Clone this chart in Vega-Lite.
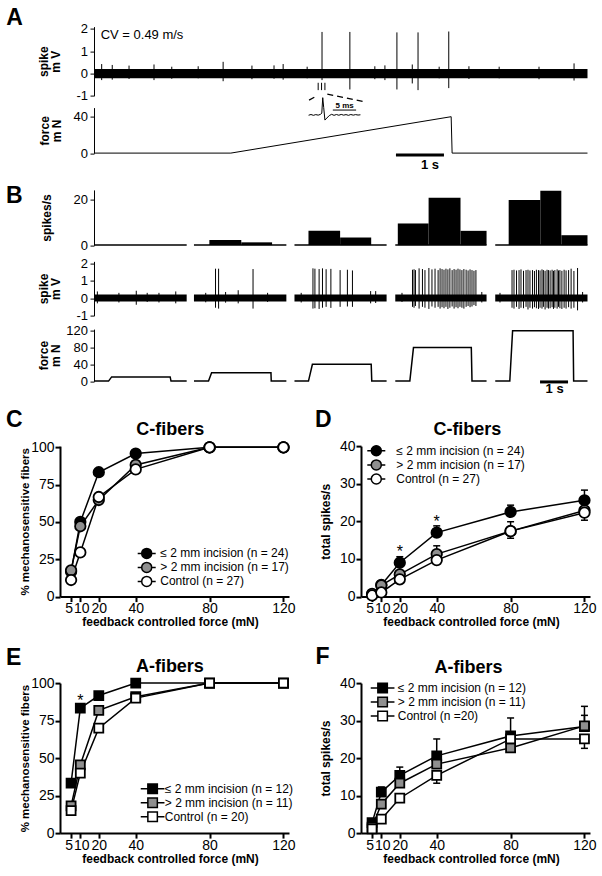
{
"$schema": "https://vega.github.io/schema/vega-lite/v6.json",
"padding": {"left": 6, "top": 6.6, "right": 4, "bottom": 4},
"config": {
  "font": "Liberation Sans",
  "view": {"stroke": null},
  "axis": {"grid": false, "domainColor": "black", "tickColor": "black", "labelColor": "black", "titleColor": "black", "labelFlush": false},
  "legend": {"labelColor": "black"}
},
"datasets": {
  "aSpikes": [
    {"t":0.16,"top":0.42,"bottom":-0.3},{"t":0.38,"top":0.38,"bottom":-0.28},{"t":0.73,"top":0.35,"bottom":-0.25},{"t":1.25,"top":0.4,"bottom":-0.3},{"t":1.62,"top":0.3,"bottom":-0.24},{"t":2.17,"top":0.32,"bottom":-0.22},{"t":2.69,"top":0.52,"bottom":-0.35},{"t":3.29,"top":0.35,"bottom":-0.26},{"t":3.75,"top":0.36,"bottom":-0.24},{"t":3.94,"top":0.42,"bottom":-0.28},{"t":4.44,"top":0.3,"bottom":-0.22},{"t":5.85,"top":0.32,"bottom":-0.26},{"t":6.06,"top":0.36,"bottom":-0.3},{"t":6.63,"top":0.4,"bottom":-0.45},{"t":7.19,"top":0.3,"bottom":-0.22},{"t":7.81,"top":0.32,"bottom":-0.25},{"t":8.44,"top":0.3,"bottom":-0.22},{"t":9.27,"top":0.3,"bottom":-0.26},{"t":10.0,"top":0.45,"bottom":-0.32},
    {"t":4.75,"top":1.86,"bottom":-0.3},{"t":5.33,"top":1.86,"bottom":-0.72},{"t":6.31,"top":1.84,"bottom":-0.72},{"t":6.75,"top":1.84,"bottom":-0.75},{"t":7.39,"top":1.88,"bottom":-0.66}
  ],
  "aMarks": [{"t":4.67,"top":-0.42,"bottom":-0.75},{"t":4.74,"top":-0.42,"bottom":-0.75},{"t":4.81,"top":-0.42,"bottom":-0.75}],
  "aDash": [{"t0":4.48,"y0":-1.2,"t1":4.63,"y1":-1.02},{"t0":4.86,"y0":-0.93,"t1":5.625,"y1":-1.27}],
  "aForce": [{"t":0,"f":0},{"t":2.85,"f":0},{"t":7.44,"f":40},{"t":7.46,"f":0},{"t":10.28,"f":0}],
  "inset": [
    {"t":4.47,"f":41.6},{"t":4.52,"f":42.4},{"t":4.57,"f":41.5},{"t":4.62,"f":42.3},{"t":4.67,"f":41.7},{"t":4.72,"f":42.6},{"t":4.745,"f":44},{"t":4.765,"f":60.9},{"t":4.785,"f":50},{"t":4.81,"f":36.3},{"t":4.85,"f":38.5},{"t":4.9,"f":41.2},{"t":4.95,"f":42.6},{"t":5.0,"f":41.5},{"t":5.05,"f":42.4},{"t":5.1,"f":41.6},{"t":5.15,"f":42.5},{"t":5.2,"f":41.7},{"t":5.25,"f":42.3},{"t":5.3,"f":41.5},{"t":5.35,"f":42.4},{"t":5.4,"f":41.7},{"t":5.45,"f":42.3},{"t":5.5,"f":41.8},{"t":5.55,"f":42.1}
  ],
  "segs": [{"s0":0,"s1":3.31},{"s0":3.57,"s1":6.87},{"s0":7.16,"s1":10.45},{"s0":10.76,"s1":14.02},{"s0":14.33,"s1":17.625}],
  "bHist": [
    {"b0":4.12,"b1":5.26,"h":2.2},{"b0":5.26,"b1":6.36,"h":1.2},
    {"b0":7.66,"b1":8.79,"h":6.2},{"b0":8.79,"b1":9.9,"h":3.3},
    {"b0":10.85,"b1":11.95,"h":9.4},{"b0":11.95,"b1":13.09,"h":20.6},{"b0":13.09,"b1":14.02,"h":6.2},
    {"b0":14.81,"b1":15.94,"h":19.6},{"b0":15.94,"b1":16.69,"h":23.6},{"b0":16.69,"b1":17.625,"h":4.3}
  ],
  "bSpikes": [
    {"t":0.12,"top":0.38,"bottom":-0.3},{"t":0.89,"top":0.3,"bottom":-0.25},{"t":1.51,"top":0.42,"bottom":-0.38},{"t":1.9,"top":0.3,"bottom":-0.22},{"t":2.32,"top":0.3,"bottom":-0.25},{"t":2.92,"top":0.38,"bottom":-0.3},
    {"t":3.99,"top":0.3,"bottom":-0.24},{"t":4.34,"top":1.68,"bottom":-0.55},{"t":4.45,"top":1.68,"bottom":-0.6},{"t":4.7,"top":0.35,"bottom":-0.26},{"t":5.15,"top":0.45,"bottom":-0.3},{"t":5.68,"top":1.66,"bottom":-0.6},{"t":6.2,"top":0.3,"bottom":-0.22},
    {"t":7.4,"top":0.3,"bottom":-0.25},{"t":7.82,"top":1.7,"bottom":-0.6},{"t":7.89,"top":1.68,"bottom":-0.58},{"t":8.04,"top":1.66,"bottom":-0.62},{"t":8.16,"top":1.7,"bottom":-0.55},{"t":8.29,"top":1.65,"bottom":-0.5},{"t":8.46,"top":1.67,"bottom":-0.56},{"t":8.79,"top":1.6,"bottom":-0.5},{"t":9.05,"top":1.62,"bottom":-0.48},{"t":9.23,"top":1.58,"bottom":-0.5},{"t":9.88,"top":0.4,"bottom":-0.3},{"t":10.06,"top":0.4,"bottom":-0.28},
    {"t":11.0,"top":0.3,"bottom":-0.22},
    {"t":11.375,"top":1.62,"bottom":-0.5},{"t":11.43,"top":1.65,"bottom":-0.55},{"t":11.48,"top":1.6,"bottom":-0.45},{"t":11.61,"top":1.7,"bottom":-0.6},{"t":11.73,"top":1.66,"bottom":-0.5},{"t":11.82,"top":1.6,"bottom":-0.55},{"t":11.96,"top":1.72,"bottom":-0.62},{"t":12.07,"top":1.64,"bottom":-0.48},{"t":12.18,"top":1.68,"bottom":-0.55},{"t":12.29,"top":1.6,"bottom":-0.5},{"t":12.36,"top":1.7,"bottom":-0.6},{"t":12.43,"top":1.66,"bottom":-0.52},{"t":12.5,"top":1.62,"bottom":-0.58},{"t":12.57,"top":1.68,"bottom":-0.5},{"t":12.64,"top":1.64,"bottom":-0.62},{"t":12.71,"top":1.7,"bottom":-0.55},{"t":12.79,"top":1.6,"bottom":-0.48},{"t":12.86,"top":1.66,"bottom":-0.6},{"t":12.93,"top":1.62,"bottom":-0.52},{"t":13.0,"top":1.68,"bottom":-0.58},{"t":13.07,"top":1.64,"bottom":-0.5},{"t":13.14,"top":1.6,"bottom":-0.55},{"t":13.21,"top":1.66,"bottom":-0.6},{"t":13.29,"top":1.62,"bottom":-0.5},{"t":13.36,"top":1.58,"bottom":-0.45},{"t":13.43,"top":1.64,"bottom":-0.52},{"t":13.5,"top":1.6,"bottom":-0.48},{"t":13.57,"top":1.56,"bottom":-0.4},{"t":13.64,"top":1.6,"bottom":-0.45},{"t":13.85,"top":0.35,"bottom":-0.25},
    {"t":14.5,"top":0.3,"bottom":-0.25},
    {"t":14.93,"top":1.6,"bottom":-0.55},{"t":15.0,"top":1.62,"bottom":-0.6},{"t":15.09,"top":1.58,"bottom":-0.5},{"t":15.18,"top":1.6,"bottom":-0.62},{"t":15.25,"top":1.64,"bottom":-0.55},{"t":15.34,"top":1.56,"bottom":-0.58},{"t":15.43,"top":1.6,"bottom":-0.5},{"t":15.5,"top":1.62,"bottom":-0.65},{"t":15.57,"top":1.58,"bottom":-0.55},{"t":15.66,"top":1.6,"bottom":-0.6},{"t":15.73,"top":1.55,"bottom":-0.52},{"t":15.8,"top":1.62,"bottom":-0.58},{"t":15.875,"top":1.6,"bottom":-0.62},{"t":15.93,"top":1.58,"bottom":-0.55},{"t":16.0,"top":1.64,"bottom":-0.6},{"t":16.05,"top":1.6,"bottom":-0.5},{"t":16.11,"top":1.56,"bottom":-0.65},{"t":16.18,"top":1.62,"bottom":-0.55},{"t":16.23,"top":1.6,"bottom":-0.6},{"t":16.29,"top":1.58,"bottom":-0.58},{"t":16.36,"top":1.62,"bottom":-0.52},{"t":16.41,"top":1.56,"bottom":-0.62},{"t":16.46,"top":1.6,"bottom":-0.55},{"t":16.54,"top":1.64,"bottom":-0.6},{"t":16.59,"top":1.58,"bottom":-0.5},{"t":16.64,"top":1.6,"bottom":-0.58},{"t":16.71,"top":1.56,"bottom":-0.62},{"t":16.79,"top":1.62,"bottom":-0.55},{"t":16.86,"top":1.58,"bottom":-0.6},{"t":16.95,"top":1.6,"bottom":-0.52},{"t":17.04,"top":1.68,"bottom":-0.6},{"t":17.14,"top":1.55,"bottom":-0.55},{"t":17.27,"top":1.72,"bottom":-0.7},{"t":17.45,"top":0.35,"bottom":-0.25}
  ],
  "bForce": [
    {"seg":1,"t":0,"f":0},{"seg":1,"t":0.52,"f":0},{"seg":1,"t":0.63,"f":10},{"seg":1,"t":2.72,"f":10},{"seg":1,"t":2.75,"f":0},{"seg":1,"t":3.31,"f":0},
    {"seg":2,"t":3.57,"f":0},{"seg":2,"t":4.09,"f":0},{"seg":2,"t":4.2,"f":20},{"seg":2,"t":6.32,"f":20},{"seg":2,"t":6.33,"f":0},{"seg":2,"t":6.87,"f":0},
    {"seg":3,"t":7.16,"f":0},{"seg":3,"t":7.66,"f":0},{"seg":3,"t":7.8,"f":40},{"seg":3,"t":9.9,"f":40},{"seg":3,"t":9.92,"f":0},{"seg":3,"t":10.45,"f":0},
    {"seg":4,"t":10.76,"f":0},{"seg":4,"t":11.28,"f":0},{"seg":4,"t":11.41,"f":80},{"seg":4,"t":13.475,"f":80},{"seg":4,"t":13.5,"f":0},{"seg":4,"t":14.02,"f":0},
    {"seg":5,"t":14.33,"f":0},{"seg":5,"t":14.85,"f":0},{"seg":5,"t":14.95,"f":120},{"seg":5,"t":17.11,"f":120},{"seg":5,"t":17.13,"f":0},{"seg":5,"t":17.625,"f":0}
  ],
  "cPct": [
    {"force":5,"v":16.7,"grp":"≤ 2 mm incision (n = 24)"},{"force":10,"v":50,"grp":"≤ 2 mm incision (n = 24)"},{"force":20,"v":83.3,"grp":"≤ 2 mm incision (n = 24)"},{"force":40,"v":95.8,"grp":"≤ 2 mm incision (n = 24)"},{"force":80,"v":100,"grp":"≤ 2 mm incision (n = 24)"},{"force":120,"v":100,"grp":"≤ 2 mm incision (n = 24)"},
    {"force":5,"v":17.6,"grp":"> 2 mm incision (n = 17)"},{"force":10,"v":47.1,"grp":"> 2 mm incision (n = 17)"},{"force":20,"v":64.7,"grp":"> 2 mm incision (n = 17)"},{"force":40,"v":88.2,"grp":"> 2 mm incision (n = 17)"},{"force":80,"v":100,"grp":"> 2 mm incision (n = 17)"},{"force":120,"v":100,"grp":"> 2 mm incision (n = 17)"},
    {"force":5,"v":11.1,"grp":"Control (n = 27)"},{"force":10,"v":29.6,"grp":"Control (n = 27)"},{"force":20,"v":66.7,"grp":"Control (n = 27)"},{"force":40,"v":85.2,"grp":"Control (n = 27)"},{"force":80,"v":100,"grp":"Control (n = 27)"},{"force":120,"v":100,"grp":"Control (n = 27)"}
  ],
  "dSpk": [
    {"force":5,"v":0.5,"grp":"≤ 2 mm incision (n = 24)"},{"force":10,"v":3.1,"grp":"≤ 2 mm incision (n = 24)"},{"force":20,"v":9.0,"grp":"≤ 2 mm incision (n = 24)"},{"force":40,"v":17.0,"grp":"≤ 2 mm incision (n = 24)"},{"force":80,"v":22.5,"grp":"≤ 2 mm incision (n = 24)"},{"force":120,"v":25.6,"grp":"≤ 2 mm incision (n = 24)"},
    {"force":5,"v":0.7,"grp":"> 2 mm incision (n = 17)"},{"force":10,"v":3.0,"grp":"> 2 mm incision (n = 17)"},{"force":20,"v":5.9,"grp":"> 2 mm incision (n = 17)"},{"force":40,"v":11.3,"grp":"> 2 mm incision (n = 17)"},{"force":80,"v":17.4,"grp":"> 2 mm incision (n = 17)"},{"force":120,"v":22.9,"grp":"> 2 mm incision (n = 17)"},
    {"force":5,"v":0.3,"grp":"Control (n = 27)"},{"force":10,"v":1.1,"grp":"Control (n = 27)"},{"force":20,"v":4.6,"grp":"Control (n = 27)"},{"force":40,"v":9.7,"grp":"Control (n = 27)"},{"force":80,"v":17.4,"grp":"Control (n = 27)"},{"force":120,"v":22.3,"grp":"Control (n = 27)"}
  ],
  "dErr": [
    {"force":10,"v":3.1,"cap":4.0},{"force":20,"v":9.0,"cap":10.6},{"force":40,"v":17.0,"cap":18.8},{"force":80,"v":22.5,"cap":24.3},{"force":120,"v":25.6,"cap":28.3},
    {"force":40,"v":11.3,"cap":13.5},{"force":80,"v":17.4,"cap":19.9},{"force":120,"v":22.9,"cap":24.6},
    {"force":80,"v":17.4,"cap":15.5},{"force":120,"v":22.3,"cap":20.3}
  ],
  "dStar": [{"force":20,"pos":10.4},{"force":40,"pos":18.4}],
  "ePct": [
    {"force":5,"v":33.3,"grp":"≤ 2 mm incision (n = 12)"},{"force":10,"v":83.3,"grp":"≤ 2 mm incision (n = 12)"},{"force":20,"v":91.7,"grp":"≤ 2 mm incision (n = 12)"},{"force":40,"v":100,"grp":"≤ 2 mm incision (n = 12)"},{"force":80,"v":100,"grp":"≤ 2 mm incision (n = 12)"},{"force":120,"v":100,"grp":"≤ 2 mm incision (n = 12)"},
    {"force":5,"v":18.2,"grp":"> 2 mm incision (n = 11)"},{"force":10,"v":45.5,"grp":"> 2 mm incision (n = 11)"},{"force":20,"v":81.8,"grp":"> 2 mm incision (n = 11)"},{"force":40,"v":90.9,"grp":"> 2 mm incision (n = 11)"},{"force":80,"v":100,"grp":"> 2 mm incision (n = 11)"},{"force":120,"v":100,"grp":"> 2 mm incision (n = 11)"},
    {"force":5,"v":15,"grp":"Control (n = 20)"},{"force":10,"v":40,"grp":"Control (n = 20)"},{"force":20,"v":70,"grp":"Control (n = 20)"},{"force":40,"v":90,"grp":"Control (n = 20)"},{"force":80,"v":100,"grp":"Control (n = 20)"},{"force":120,"v":100,"grp":"Control (n = 20)"}
  ],
  "eStar": [{"force":10,"pos":84.7}],
  "fSpk": [
    {"force":5,"v":2.8,"grp":"≤ 2 mm incision (n = 12)"},{"force":10,"v":10.9,"grp":"≤ 2 mm incision (n = 12)"},{"force":20,"v":15.4,"grp":"≤ 2 mm incision (n = 12)"},{"force":40,"v":20.6,"grp":"≤ 2 mm incision (n = 12)"},{"force":80,"v":25.9,"grp":"≤ 2 mm incision (n = 12)"},{"force":120,"v":28.4,"grp":"≤ 2 mm incision (n = 12)"},
    {"force":5,"v":1.6,"grp":"> 2 mm incision (n = 11)"},{"force":10,"v":7.7,"grp":"> 2 mm incision (n = 11)"},{"force":20,"v":13.3,"grp":"> 2 mm incision (n = 11)"},{"force":40,"v":18.4,"grp":"> 2 mm incision (n = 11)"},{"force":80,"v":22.7,"grp":"> 2 mm incision (n = 11)"},{"force":120,"v":28.6,"grp":"> 2 mm incision (n = 11)"},
    {"force":5,"v":1.1,"grp":"Control (n =20)"},{"force":10,"v":3.7,"grp":"Control (n =20)"},{"force":20,"v":9.3,"grp":"Control (n =20)"},{"force":40,"v":15.4,"grp":"Control (n =20)"},{"force":80,"v":25.1,"grp":"Control (n =20)"},{"force":120,"v":25.1,"grp":"Control (n =20)"}
  ],
  "fErr": [
    {"force":10,"v":10.9,"cap":12.3},{"force":20,"v":15.4,"cap":17.6},{"force":40,"v":20.6,"cap":25.1},{"force":80,"v":25.9,"cap":30.7},{"force":120,"v":28.4,"cap":33.8},
    {"force":120,"v":28.6,"cap":31.4},
    {"force":40,"v":15.4,"cap":13.3},{"force":120,"v":25.1,"cap":22.6}
  ]
},
"spacing": 11.5,
"resolve": {"scale": {"fill": "independent"}, "legend": {"fill": "independent"}},
"vconcat": [
  {
    "width": 527.5,
    "height": 354.5,
    "resolve": {"scale": {"x": "independent", "y": "independent"}, "axis": {"x": "independent", "y": "independent"}},
    "layer": [
      {"layer": [
        {"data": {"name": "aSpikes"}, "mark": {"type": "rule", "color": "black", "strokeWidth": 1},
         "encoding": {
           "x": {"field": "t", "type": "quantitative", "scale": {"domain": [0, 10.28], "range": [34, 527.5], "nice": false, "zero": false}, "axis": null},
           "y": {"field": "top", "type": "quantitative", "scale": {"domain": [-1, 2.1], "range": [69.1, 0], "nice": false, "zero": false},
                 "axis": {"orient": "left", "offset": -34, "values": [-1, 0, 1, 2], "tickCount": 10, "labelExpr": "datum.value < 0 ? '-' + abs(datum.value) : '' + datum.value", "labelOverlap": false, "title": ["spike", "m V"], "titleFontSize": 12, "titleFontWeight": "bold", "titleLineHeight": 12, "titlePadding": 13, "labelFontSize": 13, "labelPadding": 2.5, "tickSize": 4, "domainWidth": 1, "tickWidth": 1}},
           "y2": {"field": "bottom"}}},
        {"data": {"values": [{"t0": 0, "t1": 10.28, "lo": -0.22, "hi": 0.2}]}, "mark": {"type": "rect", "color": "black"},
         "encoding": {"x": {"field": "t0", "type": "quantitative", "axis": null}, "x2": {"field": "t1"}, "y": {"field": "lo", "type": "quantitative"}, "y2": {"field": "hi"}}},
        {"data": {"name": "aMarks"}, "mark": {"type": "rule", "color": "black", "strokeWidth": 1},
         "encoding": {"x": {"field": "t", "type": "quantitative", "axis": null}, "y": {"field": "top", "type": "quantitative"}, "y2": {"field": "bottom"}}},
        {"data": {"name": "aDash"}, "mark": {"type": "rule", "color": "black", "strokeWidth": 1.3, "strokeDash": [6, 4]},
         "encoding": {"x": {"field": "t0", "type": "quantitative", "axis": null}, "x2": {"field": "t1"}, "y": {"field": "y0", "type": "quantitative"}, "y2": {"field": "y1"}}},
        {"data": {"values": [{}]}, "mark": {"type": "text", "text": "CV = 0.49 m/s", "fontSize": 13, "align": "left", "baseline": "middle", "color": "black"},
         "encoding": {"x": {"datum": 0.14, "axis": null}, "y": {"datum": 1.72}}},
        {"data": {"values": [{}]}, "mark": {"type": "text", "text": "A", "fontSize": 23, "fontWeight": "bold", "align": "left", "baseline": "alphabetic", "color": "black"},
         "encoding": {"x": {"datum": -1.83, "axis": null}, "y": {"datum": 2.17}}}
      ]},
      {"layer": [
        {"data": {"name": "aForce"}, "mark": {"type": "line", "color": "black", "strokeWidth": 1},
         "encoding": {
           "x": {"field": "t", "type": "quantitative", "scale": {"domain": [0, 10.28], "range": [34, 527.5], "nice": false, "zero": false}, "axis": null},
           "y": {"field": "f", "type": "quantitative", "scale": {"domain": [0, 50], "range": [126.5, 81], "nice": false, "zero": false},
                 "axis": {"orient": "left", "offset": -34, "values": [0, 40], "tickCount": 10, "format": "d", "labelOverlap": false, "title": ["force", "m N"], "titleFontSize": 12, "titleFontWeight": "bold", "titleLineHeight": 12, "titlePadding": 10, "labelFontSize": 13, "labelPadding": 2.5, "tickSize": 4, "domainWidth": 1, "tickWidth": 1}}}},
        {"data": {"name": "inset"}, "mark": {"type": "line", "color": "black", "strokeWidth": 1},
         "encoding": {"x": {"field": "t", "type": "quantitative", "axis": null}, "y": {"field": "f", "type": "quantitative"}}},
        {"data": {"values": [{"t0": 6.29, "t1": 7.29}]}, "mark": {"type": "rule", "color": "black", "strokeWidth": 3},
         "encoding": {"x": {"field": "t0", "type": "quantitative", "axis": null}, "x2": {"field": "t1"}, "y": {"datum": -2}}},
        {"data": {"values": [{"t0": 4.975, "t1": 5.46}]}, "mark": {"type": "rule", "color": "black", "strokeWidth": 1},
         "encoding": {"x": {"field": "t0", "type": "quantitative", "axis": null}, "x2": {"field": "t1"}, "y": {"datum": 47.3}}},
        {"data": {"values": [{}]}, "mark": {"type": "text", "text": "1 s", "fontSize": 13, "fontWeight": "bold", "align": "center", "baseline": "middle", "color": "black"},
         "encoding": {"x": {"datum": 7.0, "axis": null}, "y": {"datum": -13.2}}},
        {"data": {"values": [{}]}, "mark": {"type": "text", "text": "5 ms", "fontSize": 8, "fontWeight": "bold", "align": "center", "baseline": "middle", "color": "black"},
         "encoding": {"x": {"datum": 5.22, "axis": null}, "y": {"datum": 51.5}}}
      ]},
      {"layer": [
        {"data": {"name": "bHist"}, "mark": {"type": "rect", "color": "black"},
         "encoding": {
           "x": {"field": "b0", "type": "quantitative", "scale": {"domain": [0, 17.625], "range": [34, 527.5], "nice": false, "zero": false}, "axis": null},
           "x2": {"field": "b1"},
           "y": {"field": "h", "type": "quantitative", "scale": {"domain": [0, 24], "range": [218.5, 163.3], "nice": false, "zero": false},
                 "axis": {"orient": "left", "offset": -34, "values": [0, 20], "tickCount": 10, "format": "d", "labelOverlap": false, "title": "spikes/s", "titleFontSize": 12, "titleFontWeight": "bold", "titlePadding": 19.5, "labelFontSize": 13, "labelPadding": 2.5, "tickSize": 4, "domainWidth": 1, "tickWidth": 1}},
           "y2": {"datum": 0}}},
        {"data": {"name": "segs"}, "mark": {"type": "rule", "color": "black", "strokeWidth": 1.5},
         "encoding": {"x": {"field": "s0", "type": "quantitative", "axis": null}, "x2": {"field": "s1"}, "y": {"datum": 0}}},
        {"data": {"values": [{}]}, "mark": {"type": "text", "text": "B", "fontSize": 23, "fontWeight": "bold", "align": "left", "baseline": "alphabetic", "color": "black"},
         "encoding": {"x": {"datum": -3.14, "axis": null}, "y": {"datum": 18.1}}}
      ]},
      {"layer": [
        {"data": {"name": "bSpikes"}, "mark": {"type": "rule", "color": "black", "strokeWidth": 1},
         "encoding": {
           "x": {"field": "t", "type": "quantitative", "scale": {"domain": [0, 17.625], "range": [34, 527.5], "nice": false, "zero": false}, "axis": null},
           "y": {"field": "top", "type": "quantitative", "scale": {"domain": [-1, 2.1], "range": [289, 234.75], "nice": false, "zero": false},
                 "axis": {"orient": "left", "offset": -34, "values": [-1, 0, 1, 2], "tickCount": 10, "labelExpr": "datum.value < 0 ? '-' + abs(datum.value) : '' + datum.value", "labelOverlap": false, "title": ["spike", "m V"], "titleFontSize": 12, "titleFontWeight": "bold", "titleLineHeight": 12, "titlePadding": 13, "labelFontSize": 13, "labelPadding": 2.5, "tickSize": 4, "domainWidth": 1, "tickWidth": 1}},
           "y2": {"field": "bottom"}}},
        {"data": {"name": "segs"}, "mark": {"type": "rect", "color": "black"},
         "encoding": {"x": {"field": "s0", "type": "quantitative", "axis": null}, "x2": {"field": "s1"}, "y": {"datum": -0.2}, "y2": {"datum": 0.2}}}
      ]},
      {"layer": [
        {"data": {"name": "bForce"}, "mark": {"type": "line", "color": "black", "strokeWidth": 1.5},
         "encoding": {
           "x": {"field": "t", "type": "quantitative", "scale": {"domain": [0, 17.625], "range": [34, 527.5], "nice": false, "zero": false}, "axis": null},
           "y": {"field": "f", "type": "quantitative", "scale": {"domain": [0, 124], "range": [354.5, 302.5], "nice": false, "zero": false},
                 "axis": {"orient": "left", "offset": -34, "values": [0, 40, 80, 120], "tickCount": 10, "format": "d", "labelOverlap": false, "title": ["force", "m N"], "titleFontSize": 12, "titleFontWeight": "bold", "titleLineHeight": 12, "titlePadding": 3, "labelFontSize": 13, "labelPadding": 2.5, "tickSize": 4, "domainWidth": 1, "tickWidth": 1}},
           "detail": {"field": "seg", "type": "nominal"}}},
        {"data": {"values": [{"t0": 15.93, "t1": 16.93}]}, "mark": {"type": "rule", "color": "black", "strokeWidth": 3},
         "encoding": {"x": {"field": "t0", "type": "quantitative", "axis": null}, "x2": {"field": "t1"}, "y": {"datum": -2}}},
        {"data": {"values": [{}]}, "mark": {"type": "text", "text": "1 s", "fontSize": 13, "fontWeight": "bold", "align": "center", "baseline": "middle", "color": "black"},
         "encoding": {"x": {"datum": 16.45, "axis": null}, "y": {"datum": -19}}}
      ]}
    ]
  },
  {
    "spacing": 17,
    "resolve": {"scale": {"fill": "independent"}, "legend": {"fill": "independent"}},
    "vconcat": [
  {
    "spacing": 19,
    "resolve": {"scale": {"fill": "independent"}, "legend": {"fill": "independent"}},
    "hconcat": [
      {
        "width": 229, "height": 150.5,
        "layer": [
          {"data": {"name": "cPct"}, "mark": {"type": "line", "color": "black", "strokeWidth": 1.5},
           "encoding": {
             "x": {"field": "force", "type": "quantitative", "scale": {"domain": [-1, 123], "nice": false, "zero": false},
                   "axis": {"values": [5, 10, 20, 40, 80, 120], "tickCount": 20, "title": "feedback controlled force (mN)", "titleFontSize": 12, "titleFontWeight": "bold", "titlePadding": 1, "titleX": 110, "labelFontSize": 14, "labelPadding": 0, "tickSize": 5, "tickWidth": 2, "domainWidth": 2, "labelOverlap": false,
                            "labelOffset": {"condition": [{"test": "datum.value == 5", "value": -2.5}, {"test": "datum.value == 10", "value": 1}], "value": 0}}},
             "y": {"field": "v", "type": "quantitative", "scale": {"domain": [0, 100.8], "nice": false},
                   "axis": {"values": [0, 25, 50, 75, 100], "tickCount": 20, "labelOverlap": false, "title": "% mechanosensitive fibers", "titleFontSize": 11.5, "titleFontWeight": "bold", "titlePadding": 0, "labelFontSize": 14, "labelPadding": 1, "tickSize": 5, "tickWidth": 2, "domainWidth": 2}},
             "detail": {"field": "grp", "type": "nominal"}}},
          {"data": {"name": "cPct"}, "mark": {"type": "point", "shape": "circle", "filled": true, "size": 110, "stroke": "black", "strokeWidth": 1.8, "opacity": 1},
           "encoding": {
             "x": {"field": "force", "type": "quantitative"},
             "y": {"field": "v", "type": "quantitative"},
             "fill": {"field": "grp", "type": "nominal",
                      "scale": {"domain": ["≤ 2 mm incision (n = 24)", "> 2 mm incision (n = 17)", "Control (n = 27)"], "range": ["black", "#8f8f8f", "white"]},
                      "legend": {"title": null, "orient": "none", "legendX": 80.7, "legendY": 101.3, "symbolType": "M-1.8,0L-1,0M1,0L1.8,0M1,0A1,1,0,1,1,-1,0A1,1,0,1,1,1,0Z", "symbolSize": 100, "symbolStrokeColor": "black", "symbolStrokeWidth": 1.5, "labelFontSize": 12, "labelOffset": 7.6, "rowPadding": -2.5, "padding": 0, "labelLimit": 300}}}},
          {"data": {"values": [{}]}, "mark": {"type": "text", "text": "C", "fontSize": 23, "fontWeight": "bold", "align": "left", "baseline": "alphabetic", "color": "black"},
           "encoding": {"x": {"datum": -30.2}, "y": {"datum": 113.7}}},
          {"data": {"values": [{}]}, "mark": {"type": "text", "text": "C-fibers", "fontSize": 18, "fontWeight": "bold", "align": "center", "baseline": "alphabetic", "color": "black"},
           "encoding": {"x": {"datum": 58.7}, "y": {"datum": 108.2}}}
        ]
      },
      {
        "width": 229, "height": 150.5,
        "layer": [
          {"data": {"name": "dSpk"}, "mark": {"type": "line", "color": "black", "strokeWidth": 1.5},
           "encoding": {
             "x": {"field": "force", "type": "quantitative", "scale": {"domain": [-1, 123], "nice": false, "zero": false},
                   "axis": {"values": [5, 10, 20, 40, 80, 120], "tickCount": 20, "title": "feedback controlled force (mN)", "titleFontSize": 12, "titleFontWeight": "bold", "titlePadding": 1, "titleX": 110, "labelFontSize": 14, "labelPadding": 0, "tickSize": 5, "tickWidth": 2, "domainWidth": 2, "labelOverlap": false,
                            "labelOffset": {"condition": [{"test": "datum.value == 5", "value": -2.5}, {"test": "datum.value == 10", "value": 1}], "value": 0}}},
             "y": {"field": "v", "type": "quantitative", "scale": {"domain": [0, 40], "nice": false},
                   "axis": {"values": [0, 10, 20, 30, 40], "tickCount": 20, "labelOverlap": false, "title": "total spikes/s", "titleFontSize": 12, "titleFontWeight": "bold", "titlePadding": 7, "labelFontSize": 14, "labelPadding": 1, "tickSize": 5, "tickWidth": 2, "domainWidth": 2}},
             "detail": {"field": "grp", "type": "nominal"}}},
          {"data": {"name": "dErr"}, "mark": {"type": "rule", "color": "black", "strokeWidth": 1.5},
           "encoding": {"x": {"field": "force", "type": "quantitative"}, "y": {"field": "v", "type": "quantitative"}, "y2": {"field": "cap"}}},
          {"data": {"name": "dErr"}, "mark": {"type": "point", "shape": "stroke", "size": 49, "stroke": "black", "strokeWidth": 1.5, "filled": false, "opacity": 1},
           "encoding": {"x": {"field": "force", "type": "quantitative"}, "y": {"field": "cap", "type": "quantitative"}}},
          {"data": {"name": "dSpk"}, "mark": {"type": "point", "shape": "circle", "filled": true, "size": 110, "stroke": "black", "strokeWidth": 1.8, "opacity": 1},
           "encoding": {
             "x": {"field": "force", "type": "quantitative"},
             "y": {"field": "v", "type": "quantitative"},
             "fill": {"field": "grp", "type": "nominal",
                      "scale": {"domain": ["≤ 2 mm incision (n = 24)", "> 2 mm incision (n = 17)", "Control (n = 27)"], "range": ["black", "#8f8f8f", "white"]},
                      "legend": {"title": null, "orient": "none", "legendX": 9.3, "legendY": -1.3, "symbolType": "M-1.8,0L-1,0M1,0L1.8,0M1,0A1,1,0,1,1,-1,0A1,1,0,1,1,1,0Z", "symbolSize": 100, "symbolStrokeColor": "black", "symbolStrokeWidth": 1.5, "labelFontSize": 12, "labelOffset": 14, "rowPadding": -1.9, "padding": 0, "labelLimit": 300}}}},
          {"data": {"name": "dStar"}, "mark": {"type": "text", "text": "*", "fontSize": 16, "align": "center", "baseline": "alphabetic", "color": "black"},
           "encoding": {"x": {"field": "force", "type": "quantitative"}, "y": {"field": "pos", "type": "quantitative"}}},
          {"data": {"values": [{}]}, "mark": {"type": "text", "text": "D", "fontSize": 23, "fontWeight": "bold", "align": "left", "baseline": "alphabetic", "color": "black"},
           "encoding": {"x": {"datum": -25.9}, "y": {"datum": 45.2}}},
          {"data": {"values": [{}]}, "mark": {"type": "text", "text": "C-fibers", "fontSize": 18, "fontWeight": "bold", "align": "center", "baseline": "alphabetic", "color": "black"},
           "encoding": {"x": {"datum": 56.6}, "y": {"datum": 42.9}}}
        ]
      }
    ]
  },
  {
    "spacing": 19,
    "resolve": {"scale": {"fill": "independent"}, "legend": {"fill": "independent"}},
    "hconcat": [
      {
        "width": 229, "height": 150,
        "layer": [
          {"data": {"name": "ePct"}, "mark": {"type": "line", "color": "black", "strokeWidth": 1.5},
           "encoding": {
             "x": {"field": "force", "type": "quantitative", "scale": {"domain": [-1, 123], "nice": false, "zero": false},
                   "axis": {"values": [5, 10, 20, 40, 80, 120], "tickCount": 20, "title": "feedback controlled force (mN)", "titleFontSize": 12, "titleFontWeight": "bold", "titlePadding": 1, "titleX": 110, "labelFontSize": 14, "labelPadding": 0, "tickSize": 5, "tickWidth": 2, "domainWidth": 2, "labelOverlap": false,
                            "labelOffset": {"condition": [{"test": "datum.value == 5", "value": -2.5}, {"test": "datum.value == 10", "value": 1}], "value": 0}}},
             "y": {"field": "v", "type": "quantitative", "scale": {"domain": [0, 100], "nice": false},
                   "axis": {"values": [0, 25, 50, 75, 100], "tickCount": 20, "labelOverlap": false, "title": "% mechanosensitive fibers", "titleFontSize": 11.5, "titleFontWeight": "bold", "titlePadding": 0, "labelFontSize": 14, "labelPadding": 1, "tickSize": 5, "tickWidth": 2, "domainWidth": 2}},
             "detail": {"field": "grp", "type": "nominal"}}},
          {"data": {"name": "ePct"}, "mark": {"type": "point", "shape": "square", "filled": true, "size": 81, "stroke": "black", "strokeWidth": 1.8, "opacity": 1},
           "encoding": {
             "x": {"field": "force", "type": "quantitative"},
             "y": {"field": "v", "type": "quantitative"},
             "fill": {"field": "grp", "type": "nominal",
                      "scale": {"domain": ["≤ 2 mm incision (n = 12)", "> 2 mm incision (n = 11)", "Control (n = 20)"], "range": ["black", "#8f8f8f", "white"]},
                      "legend": {"title": null, "orient": "none", "legendX": 86.6, "legendY": 99.7, "symbolType": "M-2.5,0L-1,0M1,0L2.5,0M-1,-1L1,-1L1,1L-1,1Z", "symbolSize": 90, "symbolStrokeColor": "black", "symbolStrokeWidth": 1.5, "labelFontSize": 12, "labelOffset": 6.2, "rowPadding": -2.4, "padding": 0, "labelLimit": 300}}}},
          {"data": {"name": "eStar"}, "mark": {"type": "text", "text": "*", "fontSize": 16, "align": "center", "baseline": "alphabetic", "color": "black"},
           "encoding": {"x": {"field": "force", "type": "quantitative"}, "y": {"field": "pos", "type": "quantitative"}}},
          {"data": {"values": [{}]}, "mark": {"type": "text", "text": "E", "fontSize": 23, "fontWeight": "bold", "align": "left", "baseline": "alphabetic", "color": "black"},
           "encoding": {"x": {"datum": -30.2}, "y": {"datum": 112.2}}},
          {"data": {"values": [{}]}, "mark": {"type": "text", "text": "A-fibers", "fontSize": 18, "fontWeight": "bold", "align": "center", "baseline": "alphabetic", "color": "black"},
           "encoding": {"x": {"datum": 58.5}, "y": {"datum": 107.7}}}
        ]
      },
      {
        "width": 229, "height": 150,
        "layer": [
          {"data": {"name": "fSpk"}, "mark": {"type": "line", "color": "black", "strokeWidth": 1.5},
           "encoding": {
             "x": {"field": "force", "type": "quantitative", "scale": {"domain": [-1, 123], "nice": false, "zero": false},
                   "axis": {"values": [5, 10, 20, 40, 80, 120], "tickCount": 20, "title": "feedback controlled force (mN)", "titleFontSize": 12, "titleFontWeight": "bold", "titlePadding": 1, "titleX": 110, "labelFontSize": 14, "labelPadding": 0, "tickSize": 5, "tickWidth": 2, "domainWidth": 2, "labelOverlap": false,
                            "labelOffset": {"condition": [{"test": "datum.value == 5", "value": -2.5}, {"test": "datum.value == 10", "value": 1}], "value": 0}}},
             "y": {"field": "v", "type": "quantitative", "scale": {"domain": [0, 40], "nice": false},
                   "axis": {"values": [0, 10, 20, 30, 40], "tickCount": 20, "labelOverlap": false, "title": "total spikes/s", "titleFontSize": 12, "titleFontWeight": "bold", "titlePadding": 7, "labelFontSize": 14, "labelPadding": 1, "tickSize": 5, "tickWidth": 2, "domainWidth": 2}},
             "detail": {"field": "grp", "type": "nominal"}}},
          {"data": {"name": "fErr"}, "mark": {"type": "rule", "color": "black", "strokeWidth": 1.5},
           "encoding": {"x": {"field": "force", "type": "quantitative"}, "y": {"field": "v", "type": "quantitative"}, "y2": {"field": "cap"}}},
          {"data": {"name": "fErr"}, "mark": {"type": "point", "shape": "stroke", "size": 49, "stroke": "black", "strokeWidth": 1.5, "filled": false, "opacity": 1},
           "encoding": {"x": {"field": "force", "type": "quantitative"}, "y": {"field": "cap", "type": "quantitative"}}},
          {"data": {"name": "fSpk"}, "mark": {"type": "point", "shape": "square", "filled": true, "size": 81, "stroke": "black", "strokeWidth": 1.8, "opacity": 1},
           "encoding": {
             "x": {"field": "force", "type": "quantitative"},
             "y": {"field": "v", "type": "quantitative"},
             "fill": {"field": "grp", "type": "nominal",
                      "scale": {"domain": ["≤ 2 mm incision (n = 12)", "> 2 mm incision (n = 11)", "Control (n =20)"], "range": ["black", "#8f8f8f", "white"]},
                      "legend": {"title": null, "orient": "none", "legendX": 15.6, "legendY": -1, "symbolType": "M-2.5,0L-1,0M1,0L2.5,0M-1,-1L1,-1L1,1L-1,1Z", "symbolSize": 90, "symbolStrokeColor": "black", "symbolStrokeWidth": 1.5, "labelFontSize": 12, "labelOffset": 9.2, "rowPadding": -2.5, "padding": 0, "labelLimit": 300}}}},
          {"data": {"values": [{}]}, "mark": {"type": "text", "text": "F", "fontSize": 23, "fontWeight": "bold", "align": "left", "baseline": "alphabetic", "color": "black"},
           "encoding": {"x": {"datum": -25.7}, "y": {"datum": 45.1}}},
          {"data": {"values": [{}]}, "mark": {"type": "text", "text": "A-fibers", "fontSize": 18, "fontWeight": "bold", "align": "center", "baseline": "alphabetic", "color": "black"},
           "encoding": {"x": {"datum": 57.2}, "y": {"datum": 42.8}}}
        ]
      }
    ]
  }
    ]
  }
]
}
